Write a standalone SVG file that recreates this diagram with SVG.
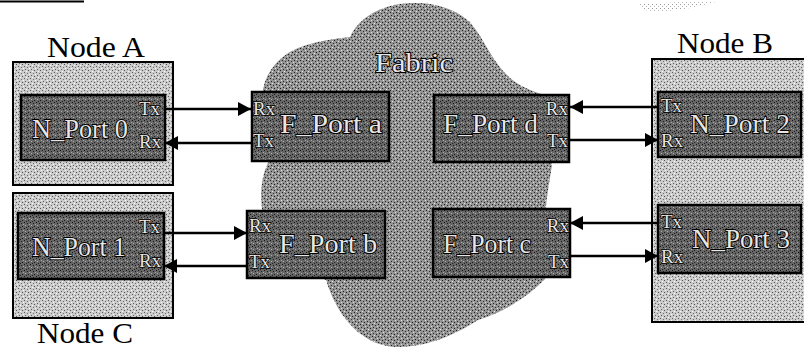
<svg xmlns="http://www.w3.org/2000/svg" width="804" height="350" viewBox="0 0 804 350">
<defs>
<pattern id="pLight" width="6" height="6" patternUnits="userSpaceOnUse">
<rect width="6" height="6" fill="#cbcbcb"/>
<rect x="0" y="0" width="1" height="1" fill="#5a5a5a"/>
<rect x="3" y="1" width="1" height="1" fill="#707070"/>
<rect x="1" y="3" width="1" height="1" fill="#606060"/>
<rect x="4" y="4" width="1" height="1" fill="#505050"/>
<rect x="5" y="2" width="1" height="1" fill="#ffffff"/>
<rect x="2" y="5" width="1" height="1" fill="#ffffff"/>
</pattern>
<pattern id="pCloud" width="6" height="6" patternUnits="userSpaceOnUse">
<rect width="6" height="6" fill="#959595"/>
<rect x="0" y="0" width="1" height="1" fill="#202020"/>
<rect x="3" y="1" width="1" height="1" fill="#303030"/>
<rect x="1" y="3" width="1" height="1" fill="#252525"/>
<rect x="4" y="4" width="1" height="1" fill="#1a1a1a"/>
<rect x="5" y="2" width="1" height="1" fill="#e0e0e0"/>
<rect x="2" y="5" width="1" height="1" fill="#e8e8e8"/>
</pattern>
<pattern id="pDark" width="6" height="6" patternUnits="userSpaceOnUse">
<rect width="6" height="6" fill="#666666"/>
<rect x="0" y="0" width="1" height="1" fill="#141414"/>
<rect x="3" y="1" width="1" height="1" fill="#1c1c1c"/>
<rect x="1" y="3" width="1" height="1" fill="#b0b0b0"/>
<rect x="4" y="4" width="1" height="1" fill="#181818"/>
<rect x="5" y="2" width="1" height="1" fill="#a8a8a8"/>
<rect x="2" y="5" width="1" height="1" fill="#202020"/>
</pattern>
<pattern id="pSpeck" width="4" height="4" patternUnits="userSpaceOnUse">
<rect x="0" y="0" width="1" height="1" fill="#9a9a9a"/>
<rect x="2" y="2" width="1" height="1" fill="#b5b5b5"/>
</pattern>
<marker id="ah" markerUnits="userSpaceOnUse" markerWidth="13" markerHeight="14" refX="13" refY="7" orient="auto">
<path d="M0,0 L13,7 L0,14 Z" fill="#000"/>
</marker>
<style>
.node{fill:url(#pLight);stroke:#000;stroke-width:2}
.port{fill:url(#pDark);stroke:#000;stroke-width:2.5}
.lbl{font-family:"Liberation Serif","Times New Roman",serif;font-size:29px;fill:#000}
.pt{font-family:"Liberation Serif","Times New Roman",serif;font-size:28px;fill:#e6e6e6;stroke:#000;stroke-width:2;paint-order:stroke}
.tr{font-family:"Liberation Serif","Times New Roman",serif;font-size:19px;fill:#e6e6e6;stroke:#000;stroke-width:1.5;paint-order:stroke}
.conn line{stroke:#000;stroke-width:2.5;marker-end:url(#ah)}
</style>
</defs>
<rect width="804" height="350" fill="#fff"/>
<line x1="0" y1="1.5" x2="84" y2="1.5" stroke="#000" stroke-width="2"/>
<path d="M640,4 L700,1 L716,2 L690,8 L660,12 L642,10 Z" fill="url(#pSpeck)"/>

<g id="fabric">
<path d="M262,100 C262,75 278,52 310,44 C325,40 340,38 350,37 C358,20 375,8 400,4 C430,0 455,8 470,22 C485,40 492,62 510,78 C522,88 535,92 548,96 L552,165 C549,185 546,200 546,210 L546,278 C530,295 505,312 478,320 C460,332 430,347 398,347 C365,347 338,320 326,280 L300,270 L262,210 C260,190 262,175 268,163 Z" fill="url(#pCloud)"/>
<text class="pt" x="414" y="72" text-anchor="middle" font-size="30" textLength="78" lengthAdjust="spacingAndGlyphs">Fabric</text>
</g>

<g id="nodeA">
<text class="lbl" x="96" y="57" text-anchor="middle" textLength="98" lengthAdjust="spacingAndGlyphs">Node A</text>
<rect class="node" x="13" y="62" width="160" height="123"/>
<g id="nport0">
<rect class="port" x="21" y="95" width="144" height="65"/>
<text class="pt" x="32" y="138" textLength="96" lengthAdjust="spacingAndGlyphs">N_Port 0</text>
<text class="tr" x="139" y="115">Tx</text>
<text class="tr" x="139" y="148">Rx</text>
</g>
</g>

<g id="nodeC">
<rect class="node" x="13" y="193" width="160" height="125"/>
<g id="nport1">
<rect class="port" x="18" y="213" width="146" height="66"/>
<text class="pt" x="32" y="256" textLength="94" lengthAdjust="spacingAndGlyphs">N_Port 1</text>
<text class="tr" x="139" y="233">Tx</text>
<text class="tr" x="139" y="267">Rx</text>
</g>
<text class="lbl" x="85" y="343" text-anchor="middle" textLength="96" lengthAdjust="spacingAndGlyphs">Node C</text>
</g>

<g id="fporta">
<rect class="port" x="252" y="92" width="137" height="69"/>
<text class="pt" x="280" y="133" textLength="102" lengthAdjust="spacingAndGlyphs">F_Port a</text>
<text class="tr" x="253" y="115">Rx</text>
<text class="tr" x="253" y="147">Tx</text>
</g>

<g id="fportb">
<rect class="port" x="247" y="211" width="138" height="67"/>
<text class="pt" x="279" y="253" textLength="98" lengthAdjust="spacingAndGlyphs">F_Port b</text>
<text class="tr" x="249" y="232">Rx</text>
<text class="tr" x="249" y="268">Tx</text>
</g>

<g id="fportd">
<rect class="port" x="434" y="95" width="135" height="67"/>
<text class="pt" x="443" y="133" textLength="95" lengthAdjust="spacingAndGlyphs">F_Port d</text>
<text class="tr" x="568" y="115" text-anchor="end">Rx</text>
<text class="tr" x="568" y="147" text-anchor="end">Tx</text>
</g>

<g id="fportc">
<rect class="port" x="433" y="209" width="137" height="68"/>
<text class="pt" x="443" y="253" textLength="88" lengthAdjust="spacingAndGlyphs">F_Port c</text>
<text class="tr" x="569" y="232" text-anchor="end">Rx</text>
<text class="tr" x="569" y="268" text-anchor="end">Tx</text>
</g>

<g id="nodeB">
<text class="lbl" x="725" y="53" text-anchor="middle" textLength="96" lengthAdjust="spacingAndGlyphs">Node B</text>
<rect class="node" x="652" y="59" width="170" height="263"/>
<g id="nport2">
<rect class="port" x="658" y="92" width="143" height="65"/>
<text class="pt" x="690" y="133" textLength="100" lengthAdjust="spacingAndGlyphs">N_Port 2</text>
<text class="tr" x="661" y="112">Tx</text>
<text class="tr" x="661" y="147">Rx</text>
</g>
<g id="nport3">
<rect class="port" x="658" y="205" width="143" height="68"/>
<text class="pt" x="692" y="248" textLength="98" lengthAdjust="spacingAndGlyphs">N_Port 3</text>
<text class="tr" x="661" y="228">Tx</text>
<text class="tr" x="661" y="263">Rx</text>
</g>
</g>

<g id="connectors" class="conn">
<line x1="165" y1="109" x2="251" y2="109"/>
<line x1="252" y1="143" x2="165" y2="143"/>
<line x1="164" y1="233" x2="247" y2="233"/>
<line x1="247" y1="266" x2="164" y2="266"/>
<line x1="658" y1="107" x2="570" y2="107"/>
<line x1="569" y1="140" x2="658" y2="140"/>
<line x1="658" y1="223" x2="570" y2="223"/>
<line x1="570" y1="256" x2="658" y2="256"/>
</g>
</svg>
